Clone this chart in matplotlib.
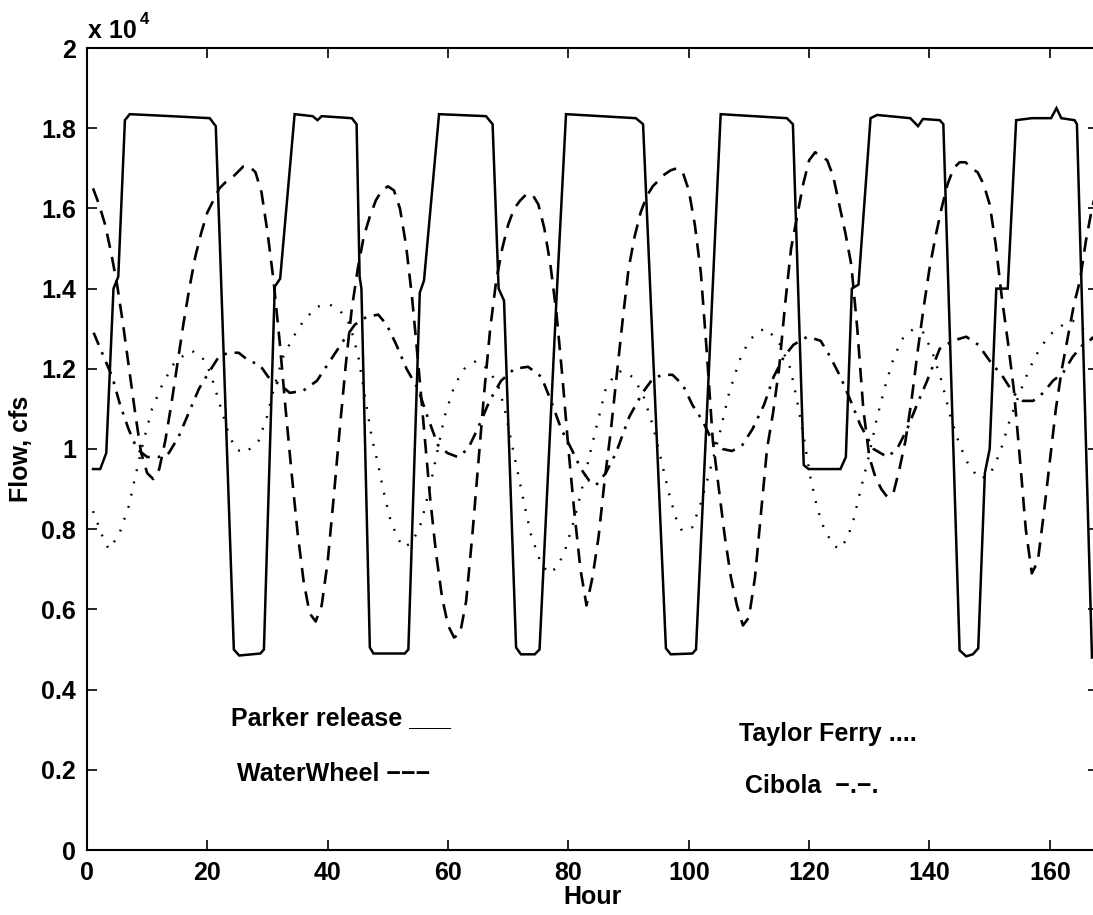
import numpy as np
import matplotlib.pyplot as plt

plt.rcParams['font.family'] = ['Liberation Sans', 'DejaVu Sans']
plt.rcParams['font.weight'] = 'bold'
plt.rcParams['axes.labelweight'] = 'bold'

# Parker release (solid), hour / flow in cfs
parker_hour = [1.0, 2.2, 3.2, 4.4, 5.2, 6.3, 7.1, 14.0, 20.4, 21.4, 24.4, 25.3, 28.8, 29.4,
               31.2, 32.1, 34.5, 37.5, 38.3, 39.0, 44.0, 44.8, 45.3, 45.6, 47.0, 47.6, 52.8, 53.4,
               55.3, 56.0, 58.5, 66.3, 67.4, 68.4, 69.3, 71.3, 72.1, 74.4, 75.2,
               78.0, 79.6, 91.2, 92.4, 96.2, 97.0, 100.6, 101.2,
               105.3, 116.3, 117.3, 119.1, 119.9, 125.2, 126.1, 127.1, 128.2, 130.2, 131.3,
               136.8, 138.1, 138.9, 141.7, 142.3, 145.0, 146.1, 147.2, 148.1,
               149.2, 150.0, 151.1, 153.0, 154.4, 157.0, 160.2, 161.1, 161.9, 164.1, 164.5, 167.0]
parker_flow = [9500, 9500, 9900, 14000, 14300, 18200, 18350, 18300, 18250, 18050, 5000, 4850, 4900, 5000,
               14050, 14250, 18350, 18300, 18200, 18300, 18250, 18100, 14300, 14000, 5050, 4900, 4900, 5000,
               13900, 14200, 18350, 18300, 18100, 14000, 13700, 5050, 4880, 4880, 5000,
               13700, 18350, 18250, 18100, 5030, 4880, 4900, 5000,
               18350, 18250, 18100, 9600, 9500, 9500, 9800, 14000, 14100, 18250, 18330,
               18250, 18050, 18230, 18200, 18100, 4980, 4830, 4880, 5030,
               9400, 10000, 14000, 14000, 18200, 18250, 18250, 18500, 18250, 18200, 18100, 4800]

# WaterWheel (dashed)
wheel_hour = list(range(1, 169))
wheel_flow = [16500, 16100, 15600, 14900, 14100, 13100, 12000, 10900, 9900, 9400,
              9250, 9500, 10200, 11100, 12100, 13100, 14000, 14800, 15400, 15900,
              16200, 16500, 16650, 16750, 16900, 17050, 17050, 16900, 16400, 15400,
              14200, 12700, 11000, 9400, 7900, 6700, 5900, 5700, 6100, 7200,
              8800, 10500, 12100, 13500, 14500, 15300, 15800, 16200, 16450, 16550,
              16450, 16000, 15100, 13800, 12200, 10500, 8800, 7400, 6300, 5600,
              5300, 5400, 6200, 7800, 9600, 11400, 13000, 14200, 15000, 15600,
              16000, 16200, 16350, 16350, 16100, 15500, 14600, 13400, 11800, 10000,
              8400, 7000, 6100, 6800, 7800, 9200, 10400, 11800, 13200, 14500,
              15300, 15900, 16300, 16550, 16700, 16850, 16950, 17000, 16900, 16450,
              15600, 14400, 12400, 10200, 9000, 7800, 6800, 6100, 5600, 5800,
              6800, 8400, 10000, 10900, 12000, 13600, 15000, 15800, 16600, 17200,
              17400, 17300, 17200, 16800, 16100, 15400, 14600, 13000, 11000, 9800,
              9300, 9000, 8800, 8900, 9500, 10200, 11200, 12400, 13500, 14500,
              15300, 16000, 16600, 17000, 17150, 17150, 17000, 16900, 16600, 16100,
              15100, 13800, 12700, 11500, 9800, 8000, 6900, 7200, 8400, 9700,
              11000, 12000, 12800, 13600, 14200, 15200, 16000, 16600]

# Taylor Ferry (dotted)
taylor_hour = [1.0, 2.5, 3.6, 5.3, 7.0, 8.0, 9.4, 10.8, 12.5, 14.7, 17.4, 19.1, 20.5, 21.9, 23.3,
               24.6, 26.3, 28.5, 29.9, 31.2, 32.6, 34.3, 36.0, 38.2, 40.4, 42.3, 43.7, 45.1, 46.2,
               47.3, 48.4, 49.2, 50.3, 51.4, 52.5, 53.9, 55.3, 56.1, 57.2, 58.3, 59.4, 61.1, 62.7,
               64.7, 66.6, 68.3, 69.4, 70.5, 71.6, 72.7, 73.8, 75.2, 76.6, 78.2, 79.6, 81.0, 82.4,
               83.6, 84.9, 86.2, 87.9, 89.0, 90.6, 92.3, 94.0, 95.3, 96.7, 97.8, 98.9, 100.6, 102.0,
               103.4, 105.0, 106.7, 108.4, 110.0, 111.7, 113.0, 115.2, 116.9, 118.0, 119.1, 120.2,
               121.3, 122.4, 123.8, 124.9, 126.3, 127.4, 128.5, 129.9, 131.3, 132.7, 134.1, 135.7,
               137.4, 139.0, 140.5, 142.0, 143.5, 145.0, 146.5, 148.3, 150.0, 151.7, 153.3, 155.0,
               156.6, 158.3, 160.0, 162.2, 163.8, 165.5, 167.5]
taylor_flow = [8450, 7850, 7500, 7850, 8600, 9300, 10200, 11000, 11600, 12200, 12450, 12300, 11900,
               11200, 10500, 10000, 9900, 10200, 10800, 11600, 12300, 12800, 13200, 13550, 13600,
               13400, 13100, 12300, 11300, 10300, 9600, 9000, 8300, 7850, 7550, 7650, 8050, 8500,
               9200, 10000, 10800, 11600, 12000, 12200, 12000, 11600, 11000, 10200, 9400, 8600,
               7850, 7250, 6900, 7050, 7550, 8250, 9100, 9900, 10700, 11500, 11900, 11950, 11800,
               11400, 10600, 9800, 8900, 8300, 7950, 8050, 8650, 9400, 10300, 11400, 12200, 12700,
               12950, 13000, 12600, 12000, 11200, 10300, 9300, 8550, 8050, 7650, 7500, 7750, 8250,
               8950, 9800, 10800, 11600, 12300, 12800, 13000, 12900, 12400, 11700, 10800, 10100,
               9600, 9250, 9350, 9900, 10700, 11400, 12000, 12500, 12850, 13100, 13200, 13000, 12700]

# Cibola (dash-dot)
cibola_hour = [1.1, 2.5, 4.2, 5.5, 6.9, 8.3, 10.0, 11.9, 13.6, 15.2, 16.9, 18.6, 20.2, 21.9, 23.5,
               25.2, 26.9, 28.7, 30.1, 32.1, 33.7, 35.9, 38.2, 40.4, 42.6, 44.5, 46.5, 48.4, 49.8,
               51.4, 53.1, 55.0, 56.6, 58.3, 59.9, 61.6, 63.3, 64.9, 66.9, 68.8, 71.0, 73.3, 75.5,
               77.1, 78.8, 80.5, 82.1, 83.5, 84.6, 86.2, 87.9, 90.1, 92.3, 94.0, 95.6, 97.3, 99.0,
               100.6, 102.3, 103.9, 105.6, 107.2, 108.9, 110.6, 112.5, 114.1, 115.8, 117.4, 119.7,
               121.9, 123.5, 125.2, 126.9, 128.5, 130.7, 133.0, 134.6, 136.3, 137.9, 139.6, 141.7,
               143.9, 146.1, 148.1, 150.0, 152.2, 153.9, 155.5, 157.2, 158.9, 160.5, 162.2, 163.8,
               165.5, 167.5]
cibola_flow = [12900, 12400, 11800, 11100, 10500, 10000, 9800, 9800, 9900, 10300, 10900, 11500,
               11900, 12300, 12400, 12400, 12200, 12100, 11800, 11600, 11400, 11450, 11700, 12200,
               12700, 13100, 13300, 13350, 13100, 12600, 12000, 11500, 10800, 10100, 9900, 9800,
               10000, 10500, 11200, 11700, 12000, 12050, 11800, 11200, 10500, 10000, 9500, 9200,
               9100, 9400, 9900, 10800, 11400, 11750, 11850, 11850, 11600, 11100, 10700, 10200,
               10000, 9950, 10100, 10500, 11100, 11800, 12300, 12600, 12800, 12700, 12300, 11800,
               11200, 10600, 10000, 9800, 10000, 10500, 11100, 11700, 12500, 12700, 12800, 12600,
               12200, 11800, 11400, 11200, 11200, 11400, 11700, 11900, 12300, 12600, 12800]

fig = plt.figure(figsize=(10.93, 9.15), dpi=100)
ax = fig.add_axes([87 / 1093, 65 / 915, (1098 - 87) / 1093, (850 - 48) / 915])

k = 'black'
ax.plot(parker_hour, np.array(parker_flow) / 1e4, color=k, lw=1.8, solid_joinstyle='miter')
ax.plot(wheel_hour, np.array(wheel_flow) / 1e4, color=k, lw=1.9, linestyle=(0, (5.5, 3.5)))
ax.plot(taylor_hour, np.array(taylor_flow) / 1e4, color=k, lw=1.7, linestyle=(0, (0.8, 4.5)))
ax.plot(cibola_hour, np.array(cibola_flow) / 1e4, color=k, lw=1.9, linestyle=(0, (5, 3, 1, 3)))

ax.set_xlim(0, 168)
ax.set_ylim(0, 2)
ax.set_xticks(range(0, 161, 20))
yt = np.round(np.arange(0, 2.01, 0.2), 1)
ax.set_yticks(yt)
ax.set_yticklabels(['%g' % v for v in yt])
ax.tick_params(direction='in', length=7, width=1.2, top=True, right=True,
               labelsize=18, pad=8)
for s in ax.spines.values():
    s.set_linewidth(1.5)

ax.set_xlabel('Hour', fontsize=18, labelpad=0)
ax.set_ylabel('Flow, cfs', fontsize=18, labelpad=6)

ax.text(23.9, 0.33, 'Parker release ___', fontsize=18, va='center')
ax.text(24.9, 0.19, 'WaterWheel \u2212\u2212\u2212', fontsize=18, va='center')
ax.text(108.3, 0.29, 'Taylor Ferry ....', fontsize=18, va='center')
ax.text(109.4, 0.16, 'Cibola  \u2212.\u2212.', fontsize=18, va='center')

fig.text(88 / 1093, 1 - 38 / 915, 'x 10', fontsize=18, va='baseline')
fig.text(140 / 1093, 1 - 24 / 915, '4', fontsize=12, va='baseline')

fig.savefig('out.png', dpi=100)
